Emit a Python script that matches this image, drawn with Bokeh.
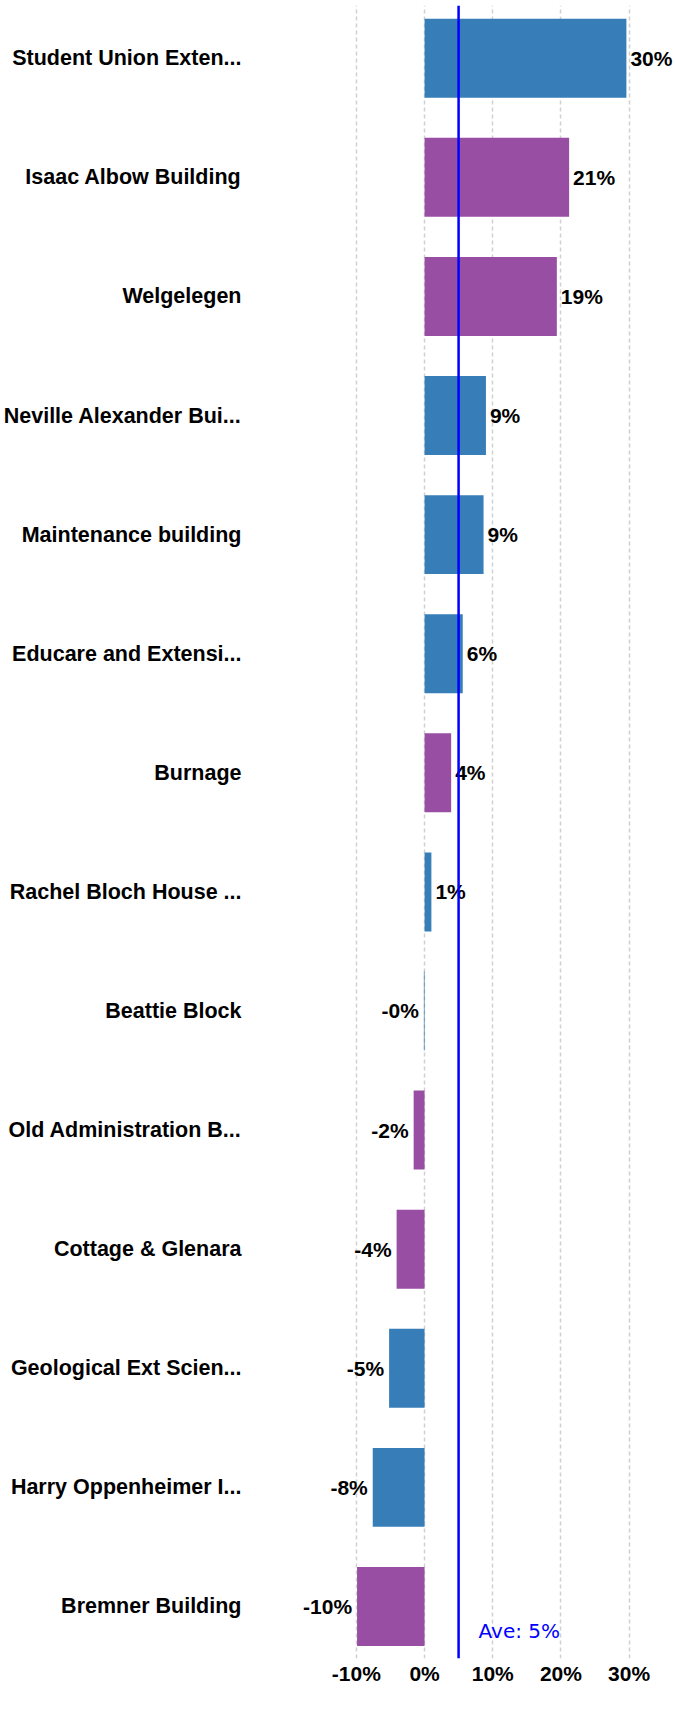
from bokeh.plotting import figure
from bokeh.models import Range1d, FixedTicker, Span, Label, ColumnDataSource
from bokeh.core.properties import value
from bokeh.embed import file_html
from bokeh.resources import INLINE

# ---- data (top to bottom) ----
categories = [
    "Student Union Exten...", "Isaac Albow Building", "Welgelegen",
    "Neville Alexander Bui...", "Maintenance building", "Educare and Extensi...",
    "Burnage", "Rachel Bloch House ...", "Beattie Block", "Old Administration B...",
    "Cottage & Glenara", "Geological Ext Scien...", "Harry Oppenheimer I...",
    "Bremner Building",
]
values = [29.6, 21.2, 19.4, 9.0, 8.65, 5.6, 3.9, 1.0, -0.1, -1.6, -4.1, -5.2, -7.6, -9.9]
groups = ["blue", "purple", "purple", "blue", "blue", "blue", "purple", "blue",
          "blue", "purple", "purple", "blue", "blue", "purple"]
x_ticks = [-10, 0, 10, 20, 30]
x_tick_labels = ["-10%", "0%", "10%", "20%", "30%"]

palette = {"blue": "#377eb8", "purple": "#984ea3"}
n = len(categories)
ys = [n - 1 - i for i in range(n)]
colors = [palette[g] for g in groups]
labels = [f"{v:.0f}%" for v in values]
average = sum(values) / len(values)

src = ColumnDataSource(dict(y=ys, v=values, color=colors, label=labels, cat=categories))
pos = ColumnDataSource(dict(y=[y for y, v in zip(ys, values) if v > 0],
                            v=[v for v in values if v > 0],
                            label=[l for l, v in zip(labels, values) if v > 0]))
neg = ColumnDataSource(dict(y=[y for y, v in zip(ys, values) if v <= 0],
                            v=[v for v in values if v <= 0],
                            label=[l for l, v in zip(labels, values) if v <= 0]))

Y_START, Y_END = -0.437, 13.443
FRAME_H = 1653
ROW_PX = FRAME_H / (Y_END - Y_START)

p = figure(width=675, height=1703, output_backend="svg", toolbar_location=None,
           x_range=Range1d(-24.5, 36.8), y_range=Range1d(Y_START, Y_END),
           min_border_left=254, min_border_right=0, min_border_top=5,
           min_border_bottom=45)
p.outline_line_color = None
p.background_fill_color = "white"

p.hbar(y="y", left=0, right="v", height=0.663, fill_color="color",
       line_color=None, source=src)

bold = value("Liberation Sans")
p.text(x="v", y="y", text="label", source=pos, x_offset=4,
       text_align="left", text_baseline="middle", text_font=bold,
       text_font_size="21px", text_font_style="bold", text_color="black")
p.text(x="v", y="y", text="label", source=neg, x_offset=-5,
       text_align="right", text_baseline="middle", text_font=bold,
       text_font_size="21px", text_font_style="bold", text_color="black")

p.add_layout(Span(location=average, dimension="height", line_color="#0000ff",
                  line_width=2.5))
p.add_layout(Label(x=average, y=Y_START + 28 / ROW_PX, x_offset=20,
                   text=f"Ave: {average:.0f}%", text_color="#0000ff",
                   text_font="DejaVu Sans", text_font_size="20px",
                   text_baseline="alphabetic"))

# x axis
p.xaxis.ticker = FixedTicker(ticks=x_ticks)
p.xaxis.major_label_overrides = {t: l for t, l in zip(x_ticks, x_tick_labels)}
p.xaxis.axis_line_color = None
p.xaxis.major_tick_line_color = None
p.xaxis.minor_tick_line_color = None
p.xaxis.major_label_standoff = -3
p.xaxis.major_label_text_font = "Liberation Sans"
p.xaxis.major_label_text_font_style = "bold"
p.xaxis.major_label_text_font_size = "21px"
p.xaxis.major_label_text_color = "black"

# y axis
p.yaxis.ticker = FixedTicker(ticks=ys)
p.yaxis.major_label_overrides = {y: c for y, c in zip(ys, categories)}
p.yaxis.axis_line_color = None
p.yaxis.major_tick_line_color = None
p.yaxis.minor_tick_line_color = None
p.yaxis.major_label_standoff = 10
p.yaxis.major_label_text_font = "Liberation Sans"
p.yaxis.major_label_text_font_style = "bold"
p.yaxis.major_label_text_font_size = "21.5px"
p.yaxis.major_label_text_color = "black"

p.ygrid.grid_line_color = None
p.xgrid.ticker = FixedTicker(ticks=x_ticks)
p.xgrid.grid_line_color = "#d0d0d0"
p.xgrid.grid_line_width = 1.5
p.xgrid.grid_line_dash = "4 3"

open("out.html", "w").write(file_html(p, INLINE))
